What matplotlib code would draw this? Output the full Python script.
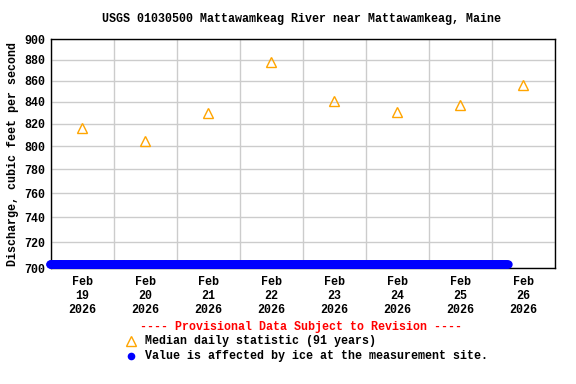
import numpy as np
import pandas as pd
import matplotlib
matplotlib.use("Agg")
import matplotlib.pyplot as plt
import matplotlib.dates as mdates
from matplotlib.ticker import FixedLocator, FixedFormatter, NullLocator

# Median daily statistic (91 years), plotted at noon of each day
median_days = ["2026-02-19", "2026-02-20", "2026-02-21", "2026-02-22",
               "2026-02-23", "2026-02-24", "2026-02-25", "2026-02-26"]
median_vals = [816, 805, 830, 878, 841, 831, 837, 856]

# Ice-affected period (15-minute readings shown at the bottom of the axis)
ice_start = "2026-02-18 23:30"
ice_end = "2026-02-26 06:00"
ice_value = 703

y_ticks = [700, 720, 740, 760, 780, 800, 820, 840, 860, 880, 900]
tick_labels = ["Feb\n19\n2026", "Feb\n20\n2026", "Feb\n21\n2026", "Feb\n22\n2026",
               "Feb\n23\n2026", "Feb\n24\n2026", "Feb\n25\n2026", "Feb\n26\n2026"]

plt.rcParams['font.family'] = ['Liberation Mono', 'DejaVu Sans Mono']
plt.rcParams['font.weight'] = 'bold'
fs = 8.4

fig = plt.figure(figsize=(5.76, 3.84), dpi=100)
ax = fig.add_axes([0.0885, 0.302, 0.875, 0.596])

med_x = pd.to_datetime(median_days) + pd.Timedelta(hours=12)
ice_x = pd.date_range(ice_start, ice_end, freq="15min")

ax.plot(ice_x, [ice_value] * len(ice_x), 'o', color='#0000ff', ms=6,
        markeredgewidth=0, clip_on=False, zorder=3)
ax.plot(med_x, median_vals, '^', color='#ffa500', ms=7.5, mfc='none',
        markeredgewidth=1.0, zorder=4)

ax.set_yscale('log')
ax.set_ylim(700, 900)
ax.yaxis.set_major_locator(FixedLocator(y_ticks))
ax.yaxis.set_major_formatter(FixedFormatter([str(v) for v in y_ticks]))
ax.yaxis.set_minor_locator(NullLocator())

ax.set_xlim(pd.Timestamp("2026-02-19"), pd.Timestamp("2026-02-27"))
ax.xaxis.set_major_locator(mdates.DayLocator())
ax.xaxis.set_major_formatter(plt.NullFormatter())
ax.set_xticks(med_x, minor=True)
ax.set_xticklabels(tick_labels, minor=True, fontweight='bold')
for lab in ax.get_yticklabels():
    lab.set_fontweight('bold')
ax.tick_params(axis='x', which='both', length=0, pad=6, labelsize=fs)
ax.tick_params(axis='y', length=0, pad=4, labelsize=fs)
ax.grid(True, which='major', color='#cccccc', linewidth=1)
ax.set_axisbelow(True)
for s in ax.spines.values():
    s.set_linewidth(1)
    s.set_color('black')

ax.set_ylabel("Discharge, cubic feet per second", fontsize=fs, fontweight='bold',
              labelpad=4)
fig.text(0.524, 0.95, "USGS 01030500 Mattawamkeag River near Mattawamkeag, Maine",
         ha='center', va='center', fontsize=fs, fontweight='bold')

fig.text(0.522, 0.148, "---- Provisional Data Subject to Revision ----",
         ha='center', va='center', fontsize=fs, fontweight='bold', color='red')
fig.lines.append(plt.Line2D([0.2274], [0.112], transform=fig.transFigure,
                            marker='^', color='#ffa500', mfc='none', ms=7.5, mew=1.0))
fig.text(0.252, 0.112, "Median daily statistic (91 years)",
         ha='left', va='center', fontsize=fs, fontweight='bold')
fig.lines.append(plt.Line2D([0.2274], [0.073], transform=fig.transFigure,
                            marker='o', color='#0000ff', ms=5.5, mew=0))
fig.text(0.252, 0.073, "Value is affected by ice at the measurement site.",
         ha='left', va='center', fontsize=fs, fontweight='bold')

fig.savefig("out.png", dpi=100)
